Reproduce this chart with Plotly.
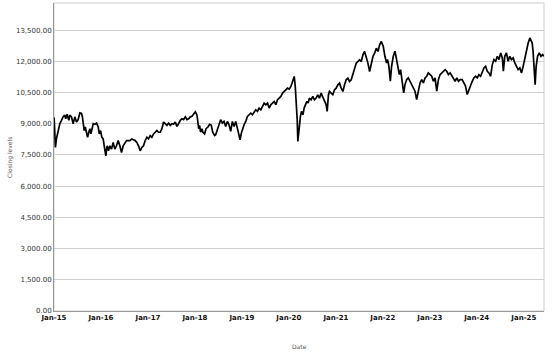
import plotly.graph_objects as go

dates = [
    "2015-01-02", "2015-01-07", "2015-01-12", "2015-01-20", "2015-02-02", "2015-02-15", "2015-02-28",
    "2015-03-13", "2015-03-26", "2015-04-02", "2015-04-13", "2015-04-26", "2015-05-04", "2015-05-17",
    "2015-05-30", "2015-06-12", "2015-06-25", "2015-07-08", "2015-07-21", "2015-08-03", "2015-08-10",
    "2015-08-16", "2015-08-24", "2015-09-01", "2015-09-11", "2015-09-19", "2015-09-29", "2015-10-07",
    "2015-10-15", "2015-10-25", "2015-11-02", "2015-11-15", "2015-11-28", "2015-12-11", "2015-12-19",
    "2015-12-29", "2016-01-08", "2016-01-18", "2016-01-26", "2016-02-03", "2016-02-08", "2016-02-18",
    "2016-02-29", "2016-03-10", "2016-03-23", "2016-04-05", "2016-04-18", "2016-05-01", "2016-05-14",
    "2016-05-27", "2016-06-09", "2016-06-22", "2016-07-05", "2016-07-18", "2016-08-13", "2016-08-28",
    "2016-09-23", "2016-10-06", "2016-10-19", "2016-11-01", "2016-11-14", "2016-11-27", "2016-12-10",
    "2016-12-23", "2017-01-05", "2017-01-18", "2017-01-31", "2017-02-13", "2017-02-26", "2017-03-11",
    "2017-03-24", "2017-04-06", "2017-04-19", "2017-05-02", "2017-05-15", "2017-05-28", "2017-06-10",
    "2017-06-23", "2017-07-06", "2017-07-19", "2017-08-01", "2017-08-14", "2017-08-27", "2017-09-09",
    "2017-09-22", "2017-10-05", "2017-10-18", "2017-10-31", "2017-11-13", "2017-11-26", "2017-12-09",
    "2017-12-22", "2018-01-04", "2018-01-17", "2018-01-25", "2018-01-30", "2018-02-06", "2018-02-14",
    "2018-02-24", "2018-03-04", "2018-03-17", "2018-03-28", "2018-04-12", "2018-04-25", "2018-05-08",
    "2018-05-19", "2018-06-03", "2018-06-11", "2018-06-24", "2018-07-07", "2018-07-20", "2018-08-02",
    "2018-08-15", "2018-08-28", "2018-09-10", "2018-09-23", "2018-10-06", "2018-10-19", "2018-11-01",
    "2018-11-14", "2018-11-27", "2018-12-10", "2018-12-18", "2018-12-28", "2019-01-07", "2019-01-18",
    "2019-01-31", "2019-02-13", "2019-02-26", "2019-03-11", "2019-03-24", "2019-04-06", "2019-04-19",
    "2019-05-02", "2019-05-15", "2019-05-28", "2019-06-10", "2019-06-23", "2019-07-06", "2019-07-19",
    "2019-08-01", "2019-08-14", "2019-08-27", "2019-09-09", "2019-09-22", "2019-10-05", "2019-10-18",
    "2019-10-31", "2019-11-13", "2019-11-26", "2019-12-09", "2019-12-22", "2020-01-04", "2020-01-17",
    "2020-01-30", "2020-02-12", "2020-02-20", "2020-02-28", "2020-03-06", "2020-03-11", "2020-03-19",
    "2020-03-24", "2020-03-31", "2020-04-08", "2020-04-19", "2020-04-29", "2020-05-09", "2020-05-20",
    "2020-05-30", "2020-06-09", "2020-06-22", "2020-07-05", "2020-07-18", "2020-07-31", "2020-08-13",
    "2020-08-26", "2020-09-08", "2020-09-21", "2020-10-04", "2020-10-17", "2020-10-25", "2020-11-04",
    "2020-11-12", "2020-11-25", "2020-12-08", "2020-12-21", "2021-01-03", "2021-01-16", "2021-01-29",
    "2021-02-11", "2021-02-24", "2021-03-09", "2021-03-22", "2021-04-04", "2021-04-17", "2021-04-30",
    "2021-05-13", "2021-05-26", "2021-06-08", "2021-06-21", "2021-07-04", "2021-07-17", "2021-07-30",
    "2021-08-12", "2021-08-25", "2021-09-07", "2021-09-20", "2021-10-03", "2021-10-16", "2021-10-29",
    "2021-11-11", "2021-11-24", "2021-12-07", "2021-12-20", "2022-01-04", "2022-01-17", "2022-01-30",
    "2022-02-07", "2022-02-17", "2022-02-28", "2022-03-10", "2022-03-23", "2022-04-05", "2022-04-18",
    "2022-05-01", "2022-05-09", "2022-05-19", "2022-05-27", "2022-06-04", "2022-06-12", "2022-06-22",
    "2022-07-05", "2022-07-18", "2022-07-31", "2022-08-13", "2022-08-26", "2022-09-08", "2022-09-21",
    "2022-10-04", "2022-10-17", "2022-10-30", "2022-11-12", "2022-11-25", "2022-12-08", "2022-12-21",
    "2023-01-03", "2023-01-16", "2023-01-29", "2023-02-11", "2023-02-24", "2023-03-09", "2023-03-22",
    "2023-04-04", "2023-04-17", "2023-04-30", "2023-05-13", "2023-05-26", "2023-06-08", "2023-06-21",
    "2023-07-04", "2023-07-17", "2023-07-30", "2023-08-12", "2023-08-25", "2023-09-10", "2023-09-23",
    "2023-10-06", "2023-10-19", "2023-11-01", "2023-11-14", "2023-11-27", "2023-12-10", "2023-12-23",
    "2024-01-05", "2024-01-18", "2024-01-31", "2024-02-13", "2024-02-26", "2024-03-10", "2024-03-23",
    "2024-04-05", "2024-04-18", "2024-05-01", "2024-05-14", "2024-05-27", "2024-06-09", "2024-06-22",
    "2024-07-05", "2024-07-18", "2024-07-26", "2024-08-06", "2024-08-19", "2024-09-01", "2024-09-14",
    "2024-09-27", "2024-10-10", "2024-10-23", "2024-11-05", "2024-11-18", "2024-12-01", "2024-12-14",
    "2024-12-27", "2025-01-09", "2025-01-22", "2025-02-04", "2025-02-17", "2025-02-27", "2025-03-07",
    "2025-03-14", "2025-03-22", "2025-03-30", "2025-04-07", "2025-04-18", "2025-05-01", "2025-05-14",
    "2025-05-27", "2025-06-06",
]

closing = [
    9300, 8400, 7860, 8270, 8670, 9000, 9160,
    9330, 9410, 9240, 9460, 9160, 9410, 9330,
    9000, 9330, 9080, 9200, 9520, 9490, 9330,
    8920, 8670, 8840, 8510, 8350, 8590, 8760,
    8510, 8760, 9000, 8970, 9030, 8840, 8510,
    8670, 8350, 8270, 7940, 7700, 7450, 7940,
    7700, 7940, 7780, 8100, 7780, 7940, 8190,
    7940, 7610, 7940, 8100, 8190, 8190, 8270,
    8190, 8100, 7940, 7700, 7860, 7940, 8190,
    8350, 8270, 8430, 8350, 8510, 8590, 8670,
    8590, 8590, 8760, 9080, 9000, 8920, 9030,
    8920, 9000, 8970, 9080, 8870, 9000, 9160,
    9240, 9200, 9330, 9200, 9240, 9330, 9360,
    9490, 9570, 9410, 9000, 8760, 8920, 8590,
    8760, 8590, 8510, 8760, 8840, 8970, 8920,
    8590, 8430, 8470, 8710, 8950, 9190, 9030,
    9110, 8870, 9110, 8950, 8630, 9110, 8870,
    9110, 8790, 8550, 8230, 8550, 8790, 8950,
    9110, 9350, 9430, 9510, 9430, 9590, 9670,
    9590, 9750, 9670, 9830, 9990, 9910, 9990,
    9750, 9910, 9990, 10070, 9910, 10150, 10230,
    10310, 10470, 10550, 10630, 10710, 10660, 10790,
    11030, 11270, 10790, 10150, 9190, 8150, 8710,
    9190, 9350, 9590, 9430, 9750, 9910, 10070,
    9990, 10230, 10150, 10310, 10150, 10230, 10390,
    10230, 10470, 10310, 10150, 9910, 9590, 10390,
    10550, 10470, 10390, 10630, 10710, 10870, 10950,
    10710, 10550, 10870, 11110, 11190, 11030, 11110,
    11350, 11590, 11910, 11990, 12070, 11990, 12310,
    12470, 12230, 11910, 11510, 11910, 12230, 12390,
    12630, 12470, 12790, 12950, 12720, 12240, 11920,
    12080, 11760, 11040, 11760, 12240, 12480, 12080,
    11680, 11360, 11600, 11200, 10960, 10480, 10880,
    11120, 11200, 11040, 10880, 10800, 10560, 10160,
    10560, 10960, 11120, 10960, 11200, 11280, 11440,
    11360, 11280, 11040, 11200, 10560, 11120, 11360,
    11440, 11520, 11600, 11520, 11360, 11440, 11280,
    11200, 11040, 11200, 11040, 11120, 11120, 10960,
    10800, 10400, 10640, 10880, 11040, 11200, 11280,
    11200, 11360, 11280, 11520, 11680, 11760, 11520,
    11440, 11280, 11840, 12080, 12000, 12240, 12080,
    12400, 12160, 11520, 12240, 12400, 12000, 12240,
    12080, 12160, 11920, 11760, 11600, 11680, 11440,
    11760, 12160, 12560, 12880, 13120, 12960, 12880,
    12480, 11760, 10880, 11760, 12240, 12400, 12240,
    12320, 12240,
]

y_ticks = [0, 1500, 3000, 4500, 6000, 7500, 9000, 10500, 12000, 13500]
y_tick_labels = ["0.00", "1,500.00", "3,000.00", "4,500.00", "6,000.00", "7,500.00",
                 "9,000.00", "10,500.00", "12,000.00", "13,500.00"]
x_title = "Date"
y_title = "Closing levels"

fig = go.Figure()
fig.add_trace(go.Scatter(
    x=dates, y=closing, mode="lines",
    line=dict(color="black", width=1.7),
    showlegend=False, hoverinfo="skip",
))

fig.update_layout(
    width=556, height=353,
    margin=dict(l=54, r=12, t=3, b=42),
    paper_bgcolor="white", plot_bgcolor="white",
    font=dict(family="DejaVu Sans", size=7, color="#333333"),
    xaxis=dict(
        type="date",
        range=["2015-01-01", "2025-06-07"],
        tick0="2015-01-01", dtick="M12", tickformat="%b-%y",
        tickfont=dict(family="DejaVu Sans", size=7, color="#111111", weight="bold"),
        showgrid=False, zeroline=False,
        showline=True, linecolor="#999999", linewidth=1,
        ticks="", ticklen=0,
    ),
    yaxis=dict(
        range=[0, 14800],
        tickvals=y_ticks, ticktext=y_tick_labels,
        tickfont=dict(family="DejaVu Sans", size=7, color="#333333"),
        showgrid=True, gridcolor="#cfcfcf", gridwidth=1,
        zeroline=False,
        showline=True, linecolor="#999999", linewidth=1,
        ticks="", ticklen=0,
    ),
    shapes=[dict(type="rect", xref="paper", yref="paper", x0=0, x1=1, y0=0, y1=1,
                 line=dict(color="#cccccc", width=1), fillcolor="rgba(0,0,0,0)", layer="below")],
    annotations=[
        dict(text=x_title, xref="paper", yref="paper", x=0.5, y=-0.115, yanchor="middle",
             showarrow=False, font=dict(size=6, color="#555555")),
        dict(text=y_title, xref="paper", yref="paper", x=-0.09, y=0.5, xanchor="center",
             textangle=-90, showarrow=False, font=dict(size=6, color="#555555")),
    ],
)

fig.write_html("out.html")
